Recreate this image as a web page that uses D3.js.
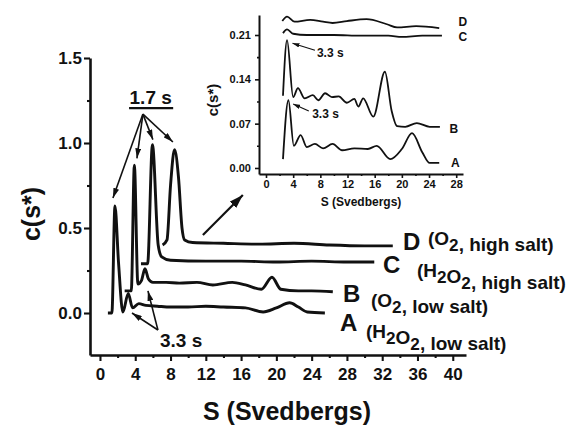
<!DOCTYPE html>
<html>
<head>
<meta charset="utf-8">
<script src="https://cdn.jsdelivr.net/npm/d3@7"></script>
<style>
  body { margin: 0; background: #fff; }
  text { font-family: "Liberation Sans", Arial, sans-serif; font-weight: bold; fill: #111; }
</style>
</head>
<body>
<svg id="chart"></svg>
<script>
// main panel, [S, c(s*)] pairs as stacked in the figure
const curveA = [[0.9,0],[1.35,0],[1.7,0.63],[2.1,0.3],[2.6,0.005],[3.2,0.115],[3.7,0.03],[4.4,0.055],[5.2,0.045],[6.5,0.04],[8,0.035],[10,0.035],[12,0.04],[14,0.035],[16.5,0.03],[18.5,0.006],[20,0.03],[21.5,0.06],[22.5,0.035],[23.5,0.006],[25.5,0]];
const curveB = [[2.8,0.13],[3.55,0.13],[3.9,0.87],[4.3,0.17],[4.7,0.19],[5.1,0.26],[5.5,0.2],[6,0.18],[7.5,0.18],[9,0.176],[11,0.18],[12.8,0.165],[15,0.18],[16.5,0.165],[18.3,0.14],[19.5,0.21],[20.5,0.14],[22.5,0.13],[24,0.13],[26.4,0.125]];
const curveC = [[4.65,0.29],[5.4,0.29],[5.95,0.99],[6.6,0.4],[7.0,0.33],[8,0.31],[12,0.305],[16,0.305],[20,0.3],[24,0.305],[28,0.3],[31.1,0.3]];
const curveD = [[7.1,0.4],[7.6,0.43],[8.0,0.75],[8.45,0.96],[8.9,0.8],[9.3,0.5],[9.6,0.43],[10.5,0.415],[14,0.41],[18,0.405],[22,0.41],[26,0.4],[30,0.395],[33.2,0.395]];

// inset panel
const insetA = [[2.5,0.014],[3.3,0.107],[4.1,0.035],[5.1,0.052],[6.0,0.033],[7.2,0.038],[8.4,0.031],[9.8,0.038],[11.2,0.028],[13,0.031],[15,0.03],[16.3,0.035],[18.3,0.014],[20,0.03],[21.5,0.055],[23,0.025],[24.1,0.008],[25.5,0.008]];
const insetB = [[2.5,0.114],[3.1,0.202],[4.0,0.112],[4.7,0.126],[5.7,0.11],[6.9,0.115],[7.7,0.107],[8.7,0.118],[9.7,0.112],[10.7,0.113],[11.9,0.103],[13.0,0.109],[13.6,0.097],[14.3,0.11],[15.8,0.081],[17.5,0.152],[18.5,0.09],[19.3,0.066],[20.5,0.065],[22.2,0.071],[24.1,0.065],[25.6,0.065]];
const insetC = [[2.5,0.213],[3.1,0.219],[4.0,0.212],[6,0.21],[10,0.21],[14,0.209],[18,0.209],[20,0.207],[23,0.209],[25.9,0.209]];
const insetD = [[2.4,0.232],[3.1,0.239],[4.2,0.231],[6.5,0.234],[8.4,0.231],[9.8,0.229],[11.9,0.232],[14.8,0.235],[17.8,0.227],[19.3,0.222],[22.1,0.224],[25.5,0.221]];

const xTicks = d3.range(0, 41, 4);
const xMinor = d3.range(2, 40, 4);
const yTicks = [0, 0.5, 1.0, 1.5];
const yMinor = [0.25, 0.75, 1.25];
const insetXTicks = d3.range(0, 29, 4);
const insetXMinor = d3.range(2, 28, 4);
const insetYTicks = [0, 0.07, 0.14, 0.21];
const insetYMinor = [0.035, 0.105, 0.175];

const seriesNames = ["A", "B", "C", "D"];
// [gas, salt] : gas rendered with subscripts
const seriesNotes = [["H2O2", "low salt"], ["O2", "low salt"], ["H2O2", "high salt"], ["O2", "high salt"]];

const w = 573, h = 425;
const svg = d3.select("#chart").attr("width", w).attr("height", h);

const x = d3.scaleLinear().domain([-1.13, 41.5]).range([90, 466]);
const y = d3.scaleLinear().domain([-0.247, 1.5]).range([355, 58]);
const xi = d3.scaleLinear().domain([-1.03, 29]).range([259, 463]);
const yi = d3.scaleLinear().domain([-0.0095, 0.2416]).range([174, 15]);

const defs = svg.append("defs");
function marker(id, len, wid) {
  defs.append("marker").attr("id", id)
    .attr("markerUnits", "userSpaceOnUse")
    .attr("markerWidth", len).attr("markerHeight", wid)
    .attr("refX", len).attr("refY", wid / 2).attr("orient", "auto")
    .append("path").attr("d", `M0,0L${len},${wid / 2}L0,${wid}Z`).attr("fill", "#111");
}
marker("ah", 10, 6);
marker("ahBig", 14, 9);
marker("ahSmall", 7, 4.5);

function axes(xs, ys, o) {
  const g = svg.append("g");
  const bx = g.append("g").attr("transform", `translate(0,${ys.range()[0]})`)
    .call(d3.axisBottom(xs).tickValues(o.xt).tickSize(o.tick).tickPadding(o.xpad).tickSizeOuter(0));
  bx.selectAll("text").attr("font-size", o.fs).attr("fill", "#111");
  g.append("g").attr("transform", `translate(0,${ys.range()[0]})`)
    .call(d3.axisBottom(xs).tickValues(o.xm).tickSize(o.tick / 2).tickFormat(""))
    .select(".domain").remove();
  const ly = g.append("g").attr("transform", `translate(${xs.range()[0]},0)`)
    .call(d3.axisLeft(ys).tickValues(o.yt).tickSize(o.tick).tickPadding(o.ypad)
      .tickFormat(d3.format(o.yf)).tickSizeOuter(0));
  ly.selectAll("text").attr("font-size", o.fs).attr("fill", "#111");
  g.append("g").attr("transform", `translate(${xs.range()[0]},0)`)
    .call(d3.axisLeft(ys).tickValues(o.ym).tickSize(o.tick / 2).tickFormat(""))
    .select(".domain").remove();
  g.selectAll(".domain").attr("stroke", "#111").attr("stroke-width", o.sw);
  g.selectAll(".tick line").attr("stroke", "#111").attr("stroke-width", o.sw * 0.8);
  g.selectAll("text").style("font-weight", "bold");
}

axes(x, y, { xt: xTicks, xm: xMinor, yt: yTicks, ym: yMinor, tick: 6, xpad: 7, ypad: 2, fs: 17, yf: ".1f", sw: 2.6 });
axes(xi, yi, { xt: insetXTicks, xm: insetXMinor, yt: insetYTicks, ym: insetYMinor, tick: 4, xpad: 2, ypad: 4, fs: 11, yf: ".2f", sw: 2 });

const line = (xs, ys) => d3.line().x(d => xs(d[0])).y(d => ys(d[1])).curve(d3.curveMonotoneX);

svg.append("g").selectAll("path").data([curveA, curveB, curveC, curveD]).join("path")
  .attr("d", line(x, y)).attr("fill", "none").attr("stroke", "#111")
  .attr("stroke-width", 2.9).attr("stroke-linejoin", "round");
svg.append("g").selectAll("path").data([insetA, insetB, insetC, insetD]).join("path")
  .attr("d", line(xi, yi)).attr("fill", "none").attr("stroke", "#111")
  .attr("stroke-width", 1.8).attr("stroke-linejoin", "round");

// axis titles
svg.append("text").attr("transform", "translate(31,214) rotate(-90)")
  .attr("text-anchor", "middle").attr("dominant-baseline", "central").attr("font-size", 25).text("c(s*)");
svg.append("text").attr("x", 287).attr("y", 420).attr("text-anchor", "middle").attr("font-size", 25).text("S (Svedbergs)");
svg.append("text").attr("transform", "translate(212,100) rotate(-90)")
  .attr("text-anchor", "middle").attr("dominant-baseline", "central").attr("font-size", 15).text("c(s*)");
svg.append("text").attr("x", 361).attr("y", 206).attr("text-anchor", "middle").attr("font-size", 12).text("S (Svedbergs)");

// series labels, main panel
const letterPos = [[340, 331], [343, 302], [383, 273], [403, 250]];
const notePos = [[366, 338], [371, 307], [417, 277], [428, 245]];
function gasText(sel, gas, salt) {
  sel.append("tspan").text("(");
  for (const ch of gas) {
    if (ch === "2") {
      sel.append("tspan").attr("dy", 6).attr("font-size", "0.9em").text("2");
      sel.append("tspan").attr("dy", -6).text("");
    } else sel.append("tspan").text(ch);
  }
  sel.append("tspan").text(", " + salt + ")");
}
seriesNames.forEach((n, i) => {
  svg.append("text").attr("x", letterPos[i][0]).attr("y", letterPos[i][1]).attr("font-size", 24).text(n);
  const t = svg.append("text").attr("x", notePos[i][0]).attr("y", notePos[i][1]).attr("font-size", 19);
  gasText(t, seriesNotes[i][0], seriesNotes[i][1]);
});

// series labels, inset
const insetLabelAt = [[25.8, 0.008], [25.6, 0.062], [26.9, 0.207], [26.9, 0.231]];
seriesNames.forEach((n, i) => {
  svg.append("text").attr("x", xi(insetLabelAt[i][0])).attr("y", yi(insetLabelAt[i][1]))
    .attr("dx", 14).attr("dominant-baseline", "central").attr("text-anchor", "middle")
    .attr("font-size", 12).text(n);
});

// annotations, main panel
const ann = svg.append("g").attr("stroke", "#111").attr("fill", "none");
const from17 = [4.87, 1.17];
const tips17 = [[1.47, 0.676], [4.19, 0.91], [6.0, 1.02], [8.27, 1.006]];
tips17.forEach(t => ann.append("line")
  .attr("x1", x(from17[0])).attr("y1", y(from17[1])).attr("x2", x(t[0])).attr("y2", y(t[1]))
  .attr("stroke-width", 1.6).attr("marker-end", "url(#ah)"));
svg.append("text").attr("x", x(5.75)).attr("y", y(1.228)).attr("text-anchor", "middle").attr("font-size", 19).text("1.7 s");
ann.append("line").attr("x1", x(3.3)).attr("x2", x(8.3)).attr("y1", y(1.205)).attr("y2", y(1.205)).attr("stroke-width", 2.2);

const from33 = [6.57, -0.1];
const tips33 = [[3.63, 0.0], [5.44, 0.13]];
tips33.forEach(t => ann.append("line")
  .attr("x1", x(from33[0])).attr("y1", y(from33[1])).attr("x2", x(t[0])).attr("y2", y(t[1]))
  .attr("stroke-width", 1.6).attr("marker-end", "url(#ah)"));
svg.append("text").attr("x", x(6.8)).attr("y", y(-0.2)).attr("font-size", 19).text("3.3 s");

ann.append("line").attr("x1", x(11.67)).attr("y1", y(0.459)).attr("x2", x(16.2)).attr("y2", y(0.694))
  .attr("stroke-width", 2.2).attr("marker-end", "url(#ahBig)");

// annotations, inset
const insetArrows = [[[7.2, 0.186], [3.9, 0.197]], [[6.3, 0.09], [4.0, 0.101]]];
const insetTextAt = [[7.5, 0.175], [6.8, 0.079]];
insetArrows.forEach((a, i) => {
  ann.append("line").attr("x1", xi(a[0][0])).attr("y1", yi(a[0][1])).attr("x2", xi(a[1][0])).attr("y2", yi(a[1][1]))
    .attr("stroke-width", 1.2).attr("marker-end", "url(#ahSmall)");
  svg.append("text").attr("x", xi(insetTextAt[i][0])).attr("y", yi(insetTextAt[i][1])).attr("font-size", 12).text("3.3 s");
});
</script>
</body>
</html>
